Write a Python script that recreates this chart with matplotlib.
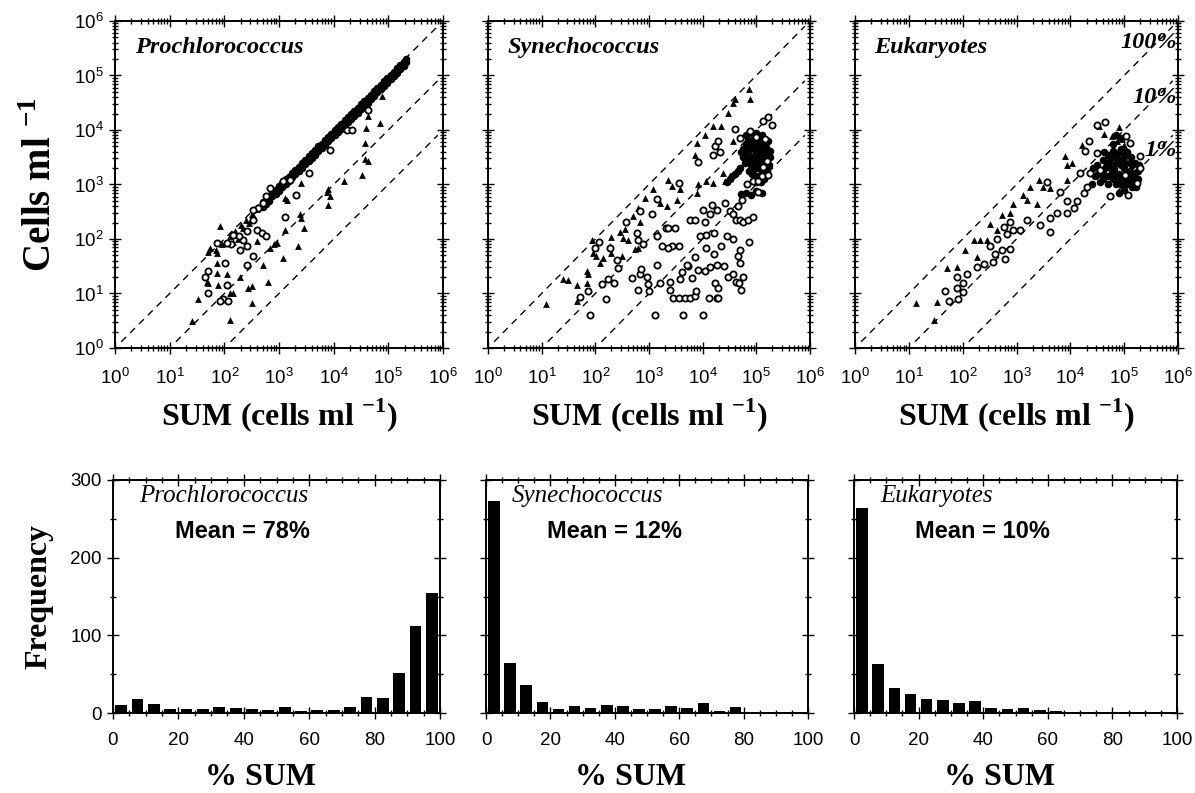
import numpy as np
import matplotlib
matplotlib.use("Agg")
import matplotlib.pyplot as plt
from matplotlib.ticker import LogLocator, MultipleLocator, NullFormatter

plt.rcParams['font.family'] = 'Liberation Sans'
plt.rcParams['mathtext.fontset'] = 'custom'
plt.rcParams['mathtext.rm'] = 'Liberation Sans'
plt.rcParams['mathtext.bf'] = 'Liberation Serif:bold'

# ---- scatter data (log10 of SUM, log10 of cells/ml) ----
# Prochlorococcus
pro_circ_lx = [4.63, 4.24, 4.33, 3.93, 3.54, 3.32, 3.11, 2.62, 2.71, 2.53, 2.59, 2.68, 2.77, 2.41,
               2.41, 2.35, 2.26, 2.13, 2.04, 2.16, 2.53, 2.41, 2.29, 1.86, 2.01, 1.71, 1.65, 1.71,
               1.98, 2.07, 2.04, 1.92, 3.08, 3.20, 2.84, 2.77, 2.53]
pro_circ_ly = [4.37, 4.00, 4.00, 3.63, 3.21, 2.81, 2.40, 2.57, 2.66, 2.35, 2.17, 2.11, 2.05, 2.14,
               1.87, 1.99, 2.05, 1.90, 1.93, 2.08, 1.68, 1.53, 1.80, 1.93, 1.56, 1.41, 1.31, 1.01,
               0.89, 0.86, 1.16, 0.86, 3.06, 3.09, 2.94, 2.78, 2.54]
pro_tri_lx = [4.88, 4.85, 4.63, 4.60, 4.57, 4.63, 4.57, 4.51, 4.18, 3.90, 3.87, 3.93, 3.90, 3.41,
              3.14, 3.11, 3.38, 3.41, 3.45, 3.11, 3.35, 3.08, 2.90, 2.84, 2.71, 2.80, 2.50, 2.44,
              2.50, 2.29, 2.10, 2.16, 2.10, 2.04, 1.89, 1.86, 1.86, 1.68, 1.71, 1.52, 1.40, 1.92,
              1.86, 1.71, 1.74, 2.59, 2.96,
              1.85, 1.95, 2.10, 2.20, 2.30, 2.40, 2.50, 2.60, 2.35, 2.25, 2.15, 2.45, 2.55]
pro_tri_ly = [4.62, 4.13, 4.25, 4.04, 3.76, 3.43, 3.46, 3.18, 3.06, 2.91, 2.87, 2.78, 2.63, 3.03,
              2.72, 2.75, 2.45, 2.39, 2.20, 2.17, 1.87, 1.65, 1.90, 1.83, 1.53, 1.22, 1.13, 1.10,
              0.83, 1.31, 1.01, 1.01, 0.52, 1.35, 1.16, 1.38, 1.56, 1.22, 1.19, 0.89, 0.49, 2.23,
              1.74, 1.77, 1.83, 1.96, 1.93,
              1.80, 1.90, 2.05, 2.15, 2.25, 2.35, 2.45, 2.55, 2.20, 2.00, 1.95, 2.30, 2.40]
# dense band along the 1:1 line (drawn as solid dots)
pro_band_lx = [2.70, 2.76, 2.82, 2.88, 2.94, 3.00, 3.06, 3.12, 3.18, 3.24, 3.30, 3.36, 3.42, 3.48,
               3.54, 3.60, 3.66, 3.72, 3.78, 3.84, 3.90, 3.96, 4.02, 4.08, 4.14, 4.20, 4.26, 4.32,
               4.38, 4.44, 4.50, 4.56, 4.62, 4.68, 4.74, 4.80, 4.86, 4.92, 4.98, 5.04, 5.10, 5.16,
               5.22, 5.28, 5.33]
pro_band_ly = [2.68, 2.72, 2.79, 2.86, 2.90, 2.97, 3.03, 3.10, 3.14, 3.22, 3.27, 3.33, 3.40, 3.45,
               3.52, 3.57, 3.63, 3.70, 3.75, 3.82, 3.87, 3.93, 4.00, 4.05, 4.11, 4.18, 4.23, 4.29,
               4.35, 4.41, 4.47, 4.53, 4.58, 4.65, 4.71, 4.77, 4.83, 4.89, 4.95, 5.01, 5.07, 5.13,
               5.19, 5.25, 5.31]
pro_band2_ly = [2.58, 2.64, 2.70, 2.78, 2.82, 2.88, 2.95, 3.01, 3.06, 3.13, 3.19, 3.24, 3.31, 3.37,
                3.43, 3.48, 3.55, 3.61, 3.67, 3.73, 3.79, 3.85, 3.91, 3.97, 4.02, 4.09, 4.15, 4.21,
                4.26, 4.32, 4.38, 4.44, 4.50, 4.56, 4.62, 4.69, 4.75, 4.81, 4.87, 4.93, 4.99, 5.05,
                5.12, 5.18, 5.25]

# Synechococcus
syn_circ_lx = [1.90, 2.19, 1.71, 1.87, 2.12, 2.34, 2.24, 2.43, 2.40, 2.27, 2.06, 2.00, 2.58, 2.68,
               2.83, 2.86, 2.96, 2.99, 2.80, 3.00, 3.14, 3.20, 3.39, 3.39, 3.12, 3.45, 3.55, 3.67,
               3.76, 3.86, 3.88, 3.64, 4.01, 4.12, 4.26, 4.29, 4.23, 4.29, 3.58, 3.61, 3.73, 3.80,
               3.92, 4.04, 4.14, 4.26, 4.39, 4.47, 4.57, 4.63, 4.68, 4.71, 4.76, 4.70, 4.66, 4.70,
               4.86, 4.57, 4.45, 4.35, 4.21, 4.07, 4.22, 4.07, 3.95, 3.86, 3.70, 3.55, 3.43, 3.36,
               3.24, 3.14, 3.31, 3.36, 3.76, 3.86, 4.01, 4.04, 4.17, 4.14, 4.26, 4.42, 4.51, 4.57,
               4.63, 4.70, 4.76, 4.85, 4.94, 4.66, 4.73, 4.83, 4.94, 5.04, 5.10, 5.04, 5.13, 5.22,
               5.19, 5.29, 5.22, 5.13, 5.16, 5.00, 4.88, 4.60, 4.70, 4.23, 4.20, 4.32, 4.29, 3.91,
               3.55, 3.14, 2.83, 3.05, 3.48, 2.77, 2.80, 2.89]
syn_circ_ly = [0.61, 0.89, 0.93, 1.05, 1.17, 1.19, 1.27, 1.47, 1.62, 1.83, 1.94, 1.83, 2.32, 1.28,
               1.36, 1.45, 1.31, 1.18, 1.07, 1.04, 1.53, 1.19, 1.22, 1.07, 0.61, 0.92, 0.92, 0.92,
               0.92, 0.95, 1.04, 0.61, 0.61, 0.92, 0.92, 0.91, 1.19, 1.10, 1.27, 1.39, 1.50, 1.28,
               1.44, 1.41, 1.49, 1.53, 1.50, 1.31, 1.35, 1.22, 1.19, 1.07, 1.31, 1.56, 1.68, 1.79,
               1.94, 2.00, 2.06, 1.88, 1.73, 1.83, 2.11, 2.08, 2.06, 1.67, 1.52, 1.88, 1.87, 1.83,
               1.88, 2.05, 2.21, 2.21, 2.35, 2.35, 2.54, 2.32, 2.63, 2.45, 2.54, 2.66, 2.51, 2.45,
               2.35, 2.35, 2.32, 2.35, 2.40, 2.60, 2.72, 3.00, 3.06, 3.06, 3.15, 2.87, 3.33, 3.18,
               3.43, 4.10, 4.24, 4.16, 3.83, 3.88, 3.98, 4.01, 3.85, 3.71, 3.55, 3.59, 3.79, 3.41,
               3.03, 2.73, 2.51, 2.46, 2.20, 2.11, 1.99, 1.91]
syn_tri_lx = [1.09, 1.40, 1.49, 1.65, 1.66, 1.84, 1.87, 1.84, 1.96, 2.02, 2.15, 2.27, 2.30, 2.46,
              2.55, 2.71, 2.80, 2.93, 3.08, 3.20, 3.33, 3.36, 3.42, 3.58, 3.52, 3.89, 3.92, 4.07,
              3.86, 3.89, 4.04, 4.20, 4.35, 4.48, 4.57, 4.60, 4.86, 4.88, 4.57, 4.37, 4.20, 4.42,
              2.83, 2.30, 2.52, 3.17, 2.61, 2.73, 2.80, 1.93, 2.09, 2.49]
syn_tri_ly = [0.81, 1.27, 1.24, 1.16, 0.86, 1.19, 1.35, 1.41, 1.74, 1.68, 1.65, 1.87, 2.04, 2.12,
              2.18, 2.42, 2.57, 2.75, 2.91, 2.66, 2.61, 3.09, 2.97, 2.91, 2.72, 2.84, 3.00, 3.06,
              3.55, 3.76, 3.91, 4.07, 4.08, 4.32, 4.50, 4.56, 4.75, 4.56, 3.79, 3.21, 3.03, 3.06,
              2.32, 1.74, 2.02, 2.11, 1.99, 1.82, 1.83, 1.99, 1.56, 1.68]
# dense black cluster near 1e5 cells
syn_blob_lx = [4.80, 4.85, 4.90, 4.95, 5.00, 5.05, 5.10, 5.15, 5.20, 5.00, 5.05, 5.10, 4.90, 4.95,
               5.05, 5.15, 5.20, 5.25, 4.85, 4.75, 4.70, 4.65, 4.60, 5.10, 5.15, 5.20, 4.95, 5.00,
               5.10, 4.80, 5.05, 4.98, 5.12, 4.88, 5.18, 5.22, 4.92, 5.02, 5.08, 5.15, 4.55, 4.50,
               4.45, 4.72, 4.80, 4.90, 5.00, 5.10,
               4.75, 4.82, 4.88, 4.93, 5.08, 5.12, 5.18, 5.22, 5.26, 5.02, 4.97, 5.07, 4.84, 4.78,
               4.72, 5.24, 5.00, 4.96, 4.86, 5.13]
syn_blob_ly = [3.75, 3.60, 3.80, 3.50, 3.70, 3.55, 3.65, 3.50, 3.60, 3.40, 3.30, 3.45, 3.35, 3.90,
               3.85, 3.75, 3.40, 3.50, 3.45, 3.50, 3.30, 3.25, 3.20, 3.25, 3.30, 3.25, 3.65, 3.95,
               3.90, 3.90, 3.45, 3.55, 3.58, 3.68, 3.68, 3.80, 3.20, 3.15, 3.05, 3.10, 3.15, 3.10,
               3.05, 2.82, 2.85, 2.80, 2.88, 2.85,
               3.65, 3.55, 3.48, 3.42, 3.35, 3.70, 3.45, 3.55, 3.62, 3.62, 3.78, 3.75, 3.82, 3.40,
               3.60, 3.35, 3.05, 3.28, 3.25, 3.20]

# Eukaryotes
euk_circ_lx = [1.67, 1.74, 1.92, 2.01, 1.89, 2.01, 1.89, 2.08, 2.26, 2.39, 2.57, 2.79, 2.60, 2.73,
               2.88, 2.51, 2.64, 2.82, 2.94, 3.07, 2.88, 2.76, 3.19, 3.44, 3.63, 3.63, 3.75, 3.94,
               4.06, 4.12, 3.56, 3.81, 3.94, 4.25, 4.31, 4.37, 4.28, 4.34, 4.49, 4.65, 5.04, 5.11,
               4.74, 5.08, 5.24, 5.30, 5.30, 5.02, 4.56, 4.18, 4.49]
euk_circ_ly = [1.05, 0.86, 0.90, 1.02, 1.11, 1.20, 1.30, 1.36, 1.48, 1.54, 1.57, 1.64, 1.73, 1.79,
               1.82, 1.88, 2.00, 2.10, 2.16, 2.16, 2.31, 2.22, 2.35, 2.25, 2.13, 2.38, 2.47, 2.47,
               2.56, 2.69, 3.04, 2.87, 2.69, 2.84, 2.96, 3.21, 3.61, 3.80, 4.10, 4.14, 3.89, 3.77,
               2.78, 2.81, 3.02, 3.30, 3.52, 3.18, 3.27, 3.21, 3.58]
euk_tri_lx = [1.13, 1.52, 1.46, 1.71, 1.90, 2.05, 2.21, 2.33, 2.51, 2.73, 2.94, 3.13, 3.26, 3.41,
              3.50, 3.63, 3.91, 3.94, 3.94, 4.03, 4.22, 4.53, 4.62, 4.90, 4.77, 4.86, 4.96, 4.99,
              3.38, 3.19, 2.88, 2.64, 2.45, 2.26]
euk_tri_ly = [0.83, 0.85, 0.51, 1.46, 1.48, 1.80, 1.98, 1.98, 2.27, 2.44, 2.65, 2.81, 2.96, 3.09,
              2.96, 2.93, 3.53, 3.36, 3.09, 3.40, 3.73, 4.07, 3.92, 4.06, 3.89, 3.80, 3.83, 3.73,
              2.65, 2.72, 2.47, 2.16, 1.98, 1.67]
euk_blob_lx = [4.75, 4.80, 4.85, 4.90, 4.95, 5.00, 5.05, 5.10, 5.15, 5.20, 5.25, 4.90, 5.00, 5.10,
               5.20, 4.80, 4.70, 4.65, 4.60, 5.05, 4.95, 4.85, 5.15, 5.25, 4.70, 4.60, 4.55, 4.50,
               4.45, 4.40, 5.00, 4.90, 5.10, 4.98, 4.78, 5.18, 4.88, 4.72, 4.62, 4.95, 4.85, 4.80,
               4.60, 4.68, 4.75, 4.82, 4.92, 5.02, 5.08, 5.12, 5.20, 5.28, 4.88, 4.95, 5.05, 5.15,
               4.70, 4.52, 4.42, 5.22, 4.80, 4.98]
euk_blob_ly = [3.30, 3.10, 3.40, 3.20, 3.00, 3.30, 3.10, 3.40, 3.20, 3.00, 3.25, 3.45, 3.50, 3.00,
               3.40, 3.50, 3.15, 3.30, 3.45, 3.60, 3.65, 3.00, 2.95, 3.10, 3.55, 3.20, 3.05, 3.35,
               3.15, 3.00, 2.90, 2.85, 3.25, 3.12, 3.22, 3.10, 3.58, 3.42, 3.60, 3.85, 3.90, 3.75,
               3.10, 3.38, 3.50, 3.28, 3.05, 3.40, 3.20, 3.50, 3.22, 3.35, 3.15, 3.35, 3.00, 3.35,
               3.00, 3.20, 3.30, 2.95, 3.62, 3.60]

# ---- histogram data (% of SUM, 5 % bins) ----
bin_centers = [2.5, 7.5, 12.5, 17.5, 22.5, 27.5, 32.5, 37.5, 42.5, 47.5,
               52.5, 57.5, 62.5, 67.5, 72.5, 77.5, 82.5, 87.5, 92.5, 97.5]
pro_freq = [10, 18, 12, 5, 5, 5, 8, 7, 5, 4, 8, 3, 4, 4, 8, 20, 19, 52, 112, 155]
syn_freq = [273, 64, 36, 14, 5, 9, 6, 10, 9, 5, 5, 9, 7, 13, 2, 8, 1, 1, 1, 1]
euk_freq = [264, 63, 32, 25, 18, 17, 13, 15, 7, 5, 6, 4, 2, 1, 1, 1, 1, 1, 1, 1]

names = ['Prochlorococcus', 'Synechococcus', 'Eukaryotes']
means = ['Mean = 78%', 'Mean = 12%', 'Mean = 10%']

scatter_sets = [
    (pro_circ_lx, pro_circ_ly, pro_tri_lx, pro_tri_ly,
     pro_band_lx + pro_band_lx, pro_band_ly + pro_band2_ly),
    (syn_circ_lx, syn_circ_ly, syn_tri_lx, syn_tri_ly, syn_blob_lx, syn_blob_ly),
    (euk_circ_lx, euk_circ_ly, euk_tri_lx, euk_tri_ly, euk_blob_lx, euk_blob_ly),
]
freqs = [pro_freq, syn_freq, euk_freq]

W, H = 1195, 793
fig = plt.figure(figsize=(W / 100, H / 100), dpi=100)

top_lefts = [115, 488, 855]
top_widths = [328, 322, 323]
bot_lefts = [113, 486, 854]
bot_widths = [327, 322, 323]

serif_lab = dict(family='Liberation Serif', weight='bold', size=23)
title_font = dict(family='Liberation Serif', style='italic', weight='bold', size=17.5)

decades = [1, 10, 100, 1e3, 1e4, 1e5, 1e6]
dec_labels = ['$10^{%d}$' % i for i in range(7)]

for i in range(3):
    # ---------- top: log-log scatter ----------
    ax = fig.add_axes([top_lefts[i] / W, 1 - 348 / H, top_widths[i] / W, 327 / H])
    cx, cy, tx, ty, bx_, by_ = scatter_sets[i]
    ax.scatter(10 ** np.array(bx_), 10 ** np.array(by_), marker='o', s=30, c='black',
               linewidths=0, zorder=3)
    ax.scatter(10 ** np.array(tx), 10 ** np.array(ty), marker='^', s=24, c='black',
               linewidths=0, zorder=3)
    ax.scatter(10 ** np.array(cx), 10 ** np.array(cy), marker='o', s=20, facecolors='white',
               edgecolors='black', linewidths=1.3, zorder=4)
    for f in [1, 0.1, 0.01]:
        xs = np.array([1.3 / f, 8e5])
        ax.plot(xs, xs * f, ls=(0, (5, 4)), color='black', lw=1.0, zorder=2)
    ax.set_xscale('log')
    ax.set_yscale('log')
    ax.set_xlim(1, 1e6)
    ax.set_ylim(1, 1e6)
    ax.set_xticks(decades)
    ax.set_xticklabels(dec_labels)
    ax.set_yticks(decades)
    if i == 0:
        ax.set_yticklabels(dec_labels)
        ax.set_ylabel('Cells ml $^{\\mathbf{-1}}$', labelpad=10,
                      family='Liberation Serif', weight='bold', size=28)
    else:
        ax.set_yticklabels([])
    for a in (ax.xaxis, ax.yaxis):
        a.set_minor_locator(LogLocator(base=10, subs=np.arange(2, 10), numticks=20))
        a.set_minor_formatter(NullFormatter())
    ax.tick_params(which='both', direction='inout', top=True, right=True, labelsize=13.5,
                   width=1)
    ax.tick_params(which='major', length=9)
    ax.tick_params(axis='x', which='major', pad=9)
    ax.tick_params(which='minor', length=4)
    ax.set_xlabel('SUM (cells ml $^{\\mathbf{-1}}$)', labelpad=6, **serif_lab)
    ax.text(0.06, 0.92, names[i], transform=ax.transAxes, ha='left', va='center',
            **title_font)
    for sp in ax.spines.values():
        sp.set_linewidth(1.4)
    if i == 2:
        for txt, ly in [('100%', 5.6), ('10%', 4.6), ('1%', 3.63)]:
            ax.text(10 ** 5.98, 10 ** ly, txt, ha='right', va='center', zorder=5,
                    **title_font)

    # ---------- bottom: histograms ----------
    bx = fig.add_axes([bot_lefts[i] / W, 1 - 713 / H, bot_widths[i] / W, 233 / H])
    bx.bar(bin_centers, freqs[i], width=3.6, color='black', zorder=3)
    bx.set_xlim(0, 100)
    bx.set_ylim(0, 300)
    bx.xaxis.set_major_locator(MultipleLocator(20))
    bx.xaxis.set_minor_locator(MultipleLocator(5))
    bx.yaxis.set_major_locator(MultipleLocator(100))
    bx.yaxis.set_minor_locator(MultipleLocator(50))
    bx.tick_params(which='both', direction='inout', top=True, right=True, labelsize=13.5,
                   width=1)
    bx.tick_params(which='major', length=9)
    bx.tick_params(axis='x', which='major', pad=9)
    bx.tick_params(which='minor', length=5)
    if i == 0:
        bx.set_ylabel('Frequency', labelpad=12, **serif_lab)
    else:
        bx.set_yticklabels([])
    bx.set_xlabel('% SUM', **serif_lab)
    bx.xaxis.set_label_coords(0.45, -0.215)
    bx.text(0.08, 0.93, names[i], transform=bx.transAxes, ha='left', va='center',
            family='Liberation Serif', style='italic', size=18)
    bx.text(0.19, 0.78, means[i], transform=bx.transAxes, ha='left', va='center',
            weight='bold', size=17)
    for sp in bx.spines.values():
        sp.set_linewidth(1.4)

fig.savefig('out.png', dpi=100)
